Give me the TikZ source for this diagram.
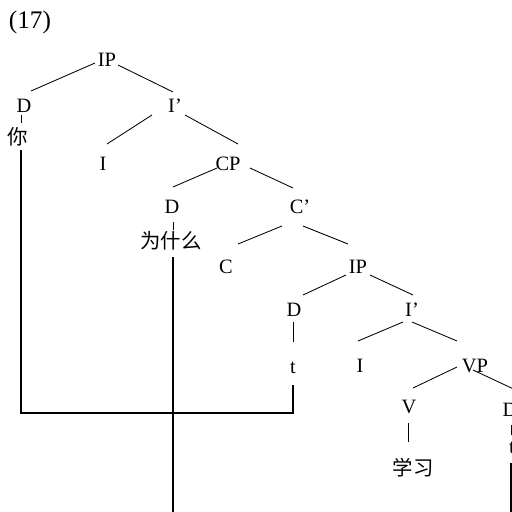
\documentclass[tikz,border=0pt]{standalone}
\usepackage{fontspec}
\setmainfont{Liberation Serif}
\newfontfamily\cjk{Noto Sans CJK SC}

\tikzset{
    lbl/.style={inner sep=0pt, font=\fontsize{14.5}{16}\selectfont},
    zh/.style={inner sep=0pt, font=\fontsize{14.5}{16}\selectfont\cjk},
    br/.style={line width=0.6pt},
    mv/.style={line width=0.9pt},
}

\begin{document}
\begin{tikzpicture}[x=0.025cm, y=-0.025cm]
        % \draw[help lines] (0,0) grid (512,512);
        \useasboundingbox (0,0) rectangle (512,512);
        \clip (0,0) rectangle (512,512);

        \node[lbl, font=\fontsize{18}{20}\selectfont] (num) at (30,22) {(17)};

        % tree labels
        \node[lbl] (ip)    at (107,60)  {IP};
        \node[lbl] (d1)    at (24,106)  {D};
        \node[zh]  (ni)    at (18,137)  {你};
        \node[lbl] (ibar1) at (175,106) {I’};
        \node[lbl] (i1)    at (103,164) {I};
        \node[lbl] (cp)    at (228,164) {CP};
        \node[lbl] (d2)    at (172,207) {D};
        \node[zh]  (wsm)   at (171,241) {为什么};
        \node[lbl] (cbar)  at (300,207) {C’};
        \node[lbl] (c)     at (226,267) {C};
        \node[lbl] (ip2)   at (358,267) {IP};
        \node[lbl] (d3)    at (294,310) {D};
        \node[lbl] (ibar2) at (412,310) {I’};
        \node[lbl] (t1)    at (293,368) {t};
        \node[lbl] (i2)    at (360,366) {I};
        \node[lbl] (vp)    at (475,366) {VP};
        \node[lbl] (v)     at (409,407) {V};
        \node[zh]  (xx)    at (413,468) {学习};
        \node[lbl] (d4)    at (510,410) {D};
        \node[lbl] (t2)    at (512,448) {t};

        % branches
        \draw[br] ([shift={(-12,3)}]ip.center)    -- ([shift={(7,-15)}]d1.center);
        \draw[br] ([shift={(11,5)}]ip.center)     -- ([shift={(-2,-14)}]ibar1.center);
        \draw[br] ([shift={(-23,9)}]ibar1.center) -- ([shift={(4,-20)}]i1.center);
        \draw[br] ([shift={(10,9)}]ibar1.center)  -- ([shift={(10,-20)}]cp.center);
        \draw[br] ([shift={(-11,4)}]cp.center)    -- ([shift={(1,-20)}]d2.center);
        \draw[br] ([shift={(22,4)}]cp.center)     -- ([shift={(-7,-19)}]cbar.center);
        \draw[br] ([shift={(-18,19)}]cbar.center) -- ([shift={(12,-23)}]c.center);
        \draw[br] ([shift={(3,19)}]cbar.center)   -- ([shift={(-10,-23)}]ip2.center);
        \draw[br] ([shift={(-12,8)}]ip2.center)   -- ([shift={(9,-15)}]d3.center);
        \draw[br] ([shift={(12,8)}]ip2.center)    -- ([shift={(1,-15)}]ibar2.center);
        \draw[br] ([shift={(-9,12)}]ibar2.center) -- ([shift={(-2,-25)}]i2.center);
        \draw[br] ([shift={(0,12)}]ibar2.center)  -- ([shift={(-18,-25)}]vp.center);
        \draw[br] ([shift={(-18,1)}]vp.center)    -- ([shift={(4,-19)}]v.center);
        \draw[br] ([shift={(-2,4)}]vp.center)     -- ([shift={(10,-18)}]d4.center);

        % short stems
        \draw[br] ([shift={(-3,9)}]d1.center)  -- ([shift={(3,-14)}]ni.center);
        \draw[br] ([shift={(1,15)}]d2.center)  -- ([shift={(2,-11)}]wsm.center);
        \draw[br] ([shift={(-1,12)}]d3.center) -- ([shift={(0,-26)}]t1.center);
        \draw[br] ([shift={(-1,16)}]v.center)  -- ([shift={(-5,-26)}]xx.center);
        \draw[br] ([shift={(1,15)}]d4.center)  -- ([shift={(-1,-13)}]t2.center);

        % movement lines
        \draw[mv] ([shift={(3,13)}]ni.center) |- ([shift={(0,45)}]t1.center) -- ([shift={(0,17)}]t1.center);
        \draw[mv] ([shift={(2,16)}]wsm.center) -- ++(0,260);
        \draw[mv] ([shift={(-1,15)}]t2.center) -- ++(0,70);

    \end{tikzpicture}
\end{document}
